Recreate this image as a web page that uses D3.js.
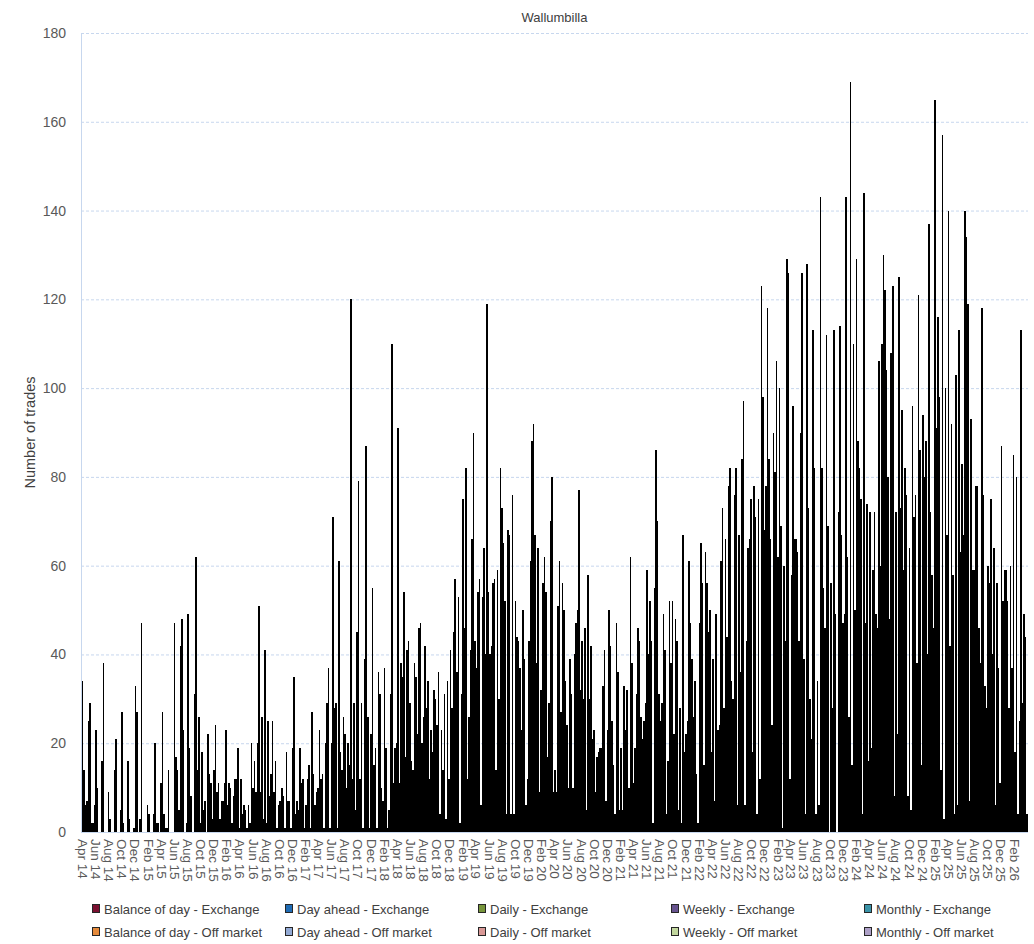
<!DOCTYPE html>
<html>
<head>
<meta charset="utf-8">
<script src="https://cdn.jsdelivr.net/npm/d3@7"></script>
<style>
  body { margin: 0; background: #fff; }
  text { font-family: "Liberation Sans", Arial, sans-serif; }
</style>
</head>
<body>
<div id="chart"></div>
<script>
// weekly number of trades, one array per calendar year (weeks starting Monday)
const firstWeek = new Date(2014, 2, 31);
const trades2014 = [34,14,6,7,25,29,2,2,6,23,10,0,0,16,38,0,0,9,3,0,0,14,21,0,0,5,27,2,0,0,16,3,0,0,1,33,27,0,3,47];
const trades2015 = [0,0,0,6,4,0,0,4,20,2,2,0,11,27,4,1,1,14,0,0,0,47,17,14,5,42,48,23,0,2,49,19,8,0,31,62,14,26,2,18,5,7,0,22,13,11,3,14,24,9,11,3];
const trades2016 = [7,7,11,23,6,11,10,2,8,12,12,19,1,12,4,6,5,1,6,2,20,10,16,9,20,51,9,26,3,41,2,25,8,13,25,9,16,1,6,7,10,8,1,18,7,7,1,19,35,4,7,5];
const trades2017 = [19,11,12,1,6,12,15,1,27,13,6,9,10,23,12,13,1,20,29,37,1,20,71,28,29,1,61,18,14,26,22,10,20,15,120,12,29,5,45,79,12,29,1,39,87,26,1,22,55,15,19,1];
const trades2018 = [36,31,10,7,37,19,1,5,31,110,11,19,20,91,11,38,35,54,17,41,43,29,16,14,38,35,22,46,47,20,26,42,28,34,12,23,18,32,30,24,36,4,23,14,31,3,34,12,41,28,45,57,36];
const trades2019 = [53,2,31,75,46,82,12,26,41,66,90,43,37,54,57,6,53,64,40,119,54,40,42,56,57,14,59,30,82,73,65,52,4,68,67,4,76,4,52,44,43,37,23,50,39,6,12,43,61,88,92,67];
const trades2020 = [38,64,9,32,56,62,54,17,29,70,80,9,14,9,51,61,27,56,50,34,24,10,39,31,10,40,47,50,77,32,43,30,46,5,58,30,42,21,23,9,17,18,19,19,33,41,7,23,50,42,25,15];
const trades2021 = [4,47,36,5,19,5,33,23,32,10,62,38,11,19,31,46,43,26,21,25,29,59,40,52,43,2,55,86,70,31,25,29,49,41,4,16,52,38,52,22,48,43,5,28,2,67,18,22,25,61,47,39];
const trades2022 = [26,34,13,2,47,65,56,15,63,56,45,50,18,39,7,49,23,24,61,73,28,66,44,78,82,34,30,76,82,6,67,36,84,97,6,43,64,66,75,18,78,71,4,75,12,123,98,68,78,118,84,66];
const trades2023 = [24,90,81,106,62,100,69,1,60,43,129,126,12,58,96,66,66,63,43,90,126,39,4,128,73,30,21,113,82,4,34,6,143,82,55,46,112,69,0,56,28,113,49,0,72,114,67,47,49,143,62,26];
const trades2024 = [169,15,110,50,129,88,82,75,4,144,47,74,16,72,19,59,72,49,46,106,60,110,130,122,104,80,48,108,123,8,72,22,125,73,95,59,82,76,8,64,5,96,71,76,38,121,86,15,94,80,88,40,137];
const trades2025 = [72,58,46,165,91,116,98,14,157,3,100,67,140,42,92,58,4,103,6,113,63,83,67,140,134,119,7,93,59,59,78,78,46,38,118,76,33,28,60,56,75,40,64,6,56,37,11,87,52,59,59,52];
const trades2026 = [28,60,37,85,18,80,4,25,113,29,49,44,4];

const seriesNames = [
  "Balance of day - Exchange", "Day ahead - Exchange", "Daily - Exchange", "Weekly - Exchange", "Monthly - Exchange",
  "Balance of day - Off market", "Day ahead - Off market", "Daily - Off market", "Weekly - Off market", "Monthly - Off market"
];
const seriesColors = ["#7b1030", "#1f6cb5", "#77953b", "#67538f", "#3a93a8",
                      "#e58a3b", "#93aad5", "#d99896", "#c2d79e", "#ada0c7"];
const yTicks = [0, 20, 40, 60, 80, 100, 120, 140, 160, 180];
const xTickStart = new Date(2014, 3, 1), xTickEnd = new Date(2026, 2, 1);

const width = 1034, height = 944;
const plot = { left: 81, right: 1028, top: 33, bottom: 832 };
const grey = "#595959", gridColor = "#c7d7ee";

const weekly = [trades2014, trades2015, trades2016, trades2017, trades2018, trades2019, trades2020,
                trades2021, trades2022, trades2023, trades2024, trades2025, trades2026].flat()
  .map((v, i) => ({ date: d3.timeDay.offset(firstWeek, 7 * i), value: v }));

const svg = d3.select("#chart").append("svg")
    .attr("width", width)
    .attr("height", height);

const x = d3.scaleTime()
    .domain([new Date(2014, 2, 27), new Date(2026, 3, 7)])
    .range([plot.left, plot.right]);

const y = d3.scaleLinear()
    .domain([0, 180])
    .range([plot.bottom, plot.top]);

// gridlines
svg.append("g")
  .selectAll("line")
  .data(yTicks.filter(d => d > 0))
  .join("line")
    .attr("x1", plot.left).attr("x2", plot.right)
    .attr("y1", d => y(d) + 0.5).attr("y2", d => y(d) + 0.5)
    .attr("stroke", gridColor)
    .attr("stroke-dasharray", "3,2");

// bars
svg.append("g")
    .attr("shape-rendering", "crispEdges")
  .selectAll("rect")
  .data(weekly)
  .join("rect")
    .attr("x", d => x(d.date))
    .attr("width", d => x(d3.timeDay.offset(d.date, 7)) - x(d.date))
    .attr("y", d => y(d.value))
    .attr("height", d => y(0) - y(d.value))
    .attr("fill", "#000");

// axis lines
svg.append("line")
    .attr("x1", plot.left + 0.5).attr("x2", plot.left + 0.5)
    .attr("y1", plot.top).attr("y2", plot.bottom)
    .attr("stroke", gridColor);
svg.append("line")
    .attr("x1", plot.left).attr("x2", plot.right)
    .attr("y1", plot.bottom + 0.5).attr("y2", plot.bottom + 0.5)
    .attr("stroke", gridColor);

// Y axis
const yAxis = svg.append("g")
    .attr("transform", `translate(${plot.left},0)`)
    .call(d3.axisLeft(y).tickValues(yTicks).tickSize(0).tickPadding(15));
yAxis.select(".domain").remove();
yAxis.selectAll("text")
    .attr("fill", grey)
    .style("font-family", "'Liberation Sans', Arial, sans-serif")
    .style("font-size", "14px");

// X axis
const xAxis = svg.append("g")
    .attr("transform", `translate(0,${plot.bottom})`)
    .call(d3.axisBottom(x)
      .tickValues(d3.timeMonth.range(xTickStart, xTickEnd, 2).concat([new Date(2026, 1, 1)]).filter((d, i, a) => a.findIndex(e => +e === +d) === i))
      .tickFormat(d3.timeFormat("%b %y"))
      .tickSize(0));
xAxis.select(".domain").remove();
xAxis.selectAll("text")
    .attr("fill", grey)
    .attr("x", 7)
    .attr("y", 0)
    .attr("dy", "0.35em")
    .attr("transform", "rotate(90)")
    .style("text-anchor", "start")
    .style("font-family", "'Liberation Sans', Arial, sans-serif")
    .style("font-size", "13.5px");

// title
svg.append("text")
    .attr("x", (plot.left + plot.right) / 2)
    .attr("y", 22)
    .attr("text-anchor", "middle")
    .attr("fill", "#404040")
    .style("font-size", "13px")
    .text("Wallumbilla");

// Y title
svg.append("text")
    .attr("transform", "rotate(-90)")
    .attr("x", -(plot.top + plot.bottom) / 2)
    .attr("y", 35)
    .attr("text-anchor", "middle")
    .attr("fill", "#404040")
    .style("font-size", "14.5px")
    .text("Number of trades");

// legend
const legend = svg.append("g")
  .selectAll("g")
  .data(seriesNames)
  .join("g")
    .attr("transform", (d, i) => `translate(${92 + 193 * (i % 5)},${909 + 23 * Math.floor(i / 5)})`);

legend.append("rect")
    .attr("x", 0.5).attr("y", -4.5)
    .attr("width", 7).attr("height", 8)
    .attr("fill", (d, i) => seriesColors[i])
    .attr("stroke", "#262626");

legend.append("text")
    .attr("x", 12)
    .attr("y", 0)
    .attr("dy", "0.35em")
    .attr("fill", "#404040")
    .style("font-size", "13px")
    .text(d => d);
</script>
</body>
</html>
